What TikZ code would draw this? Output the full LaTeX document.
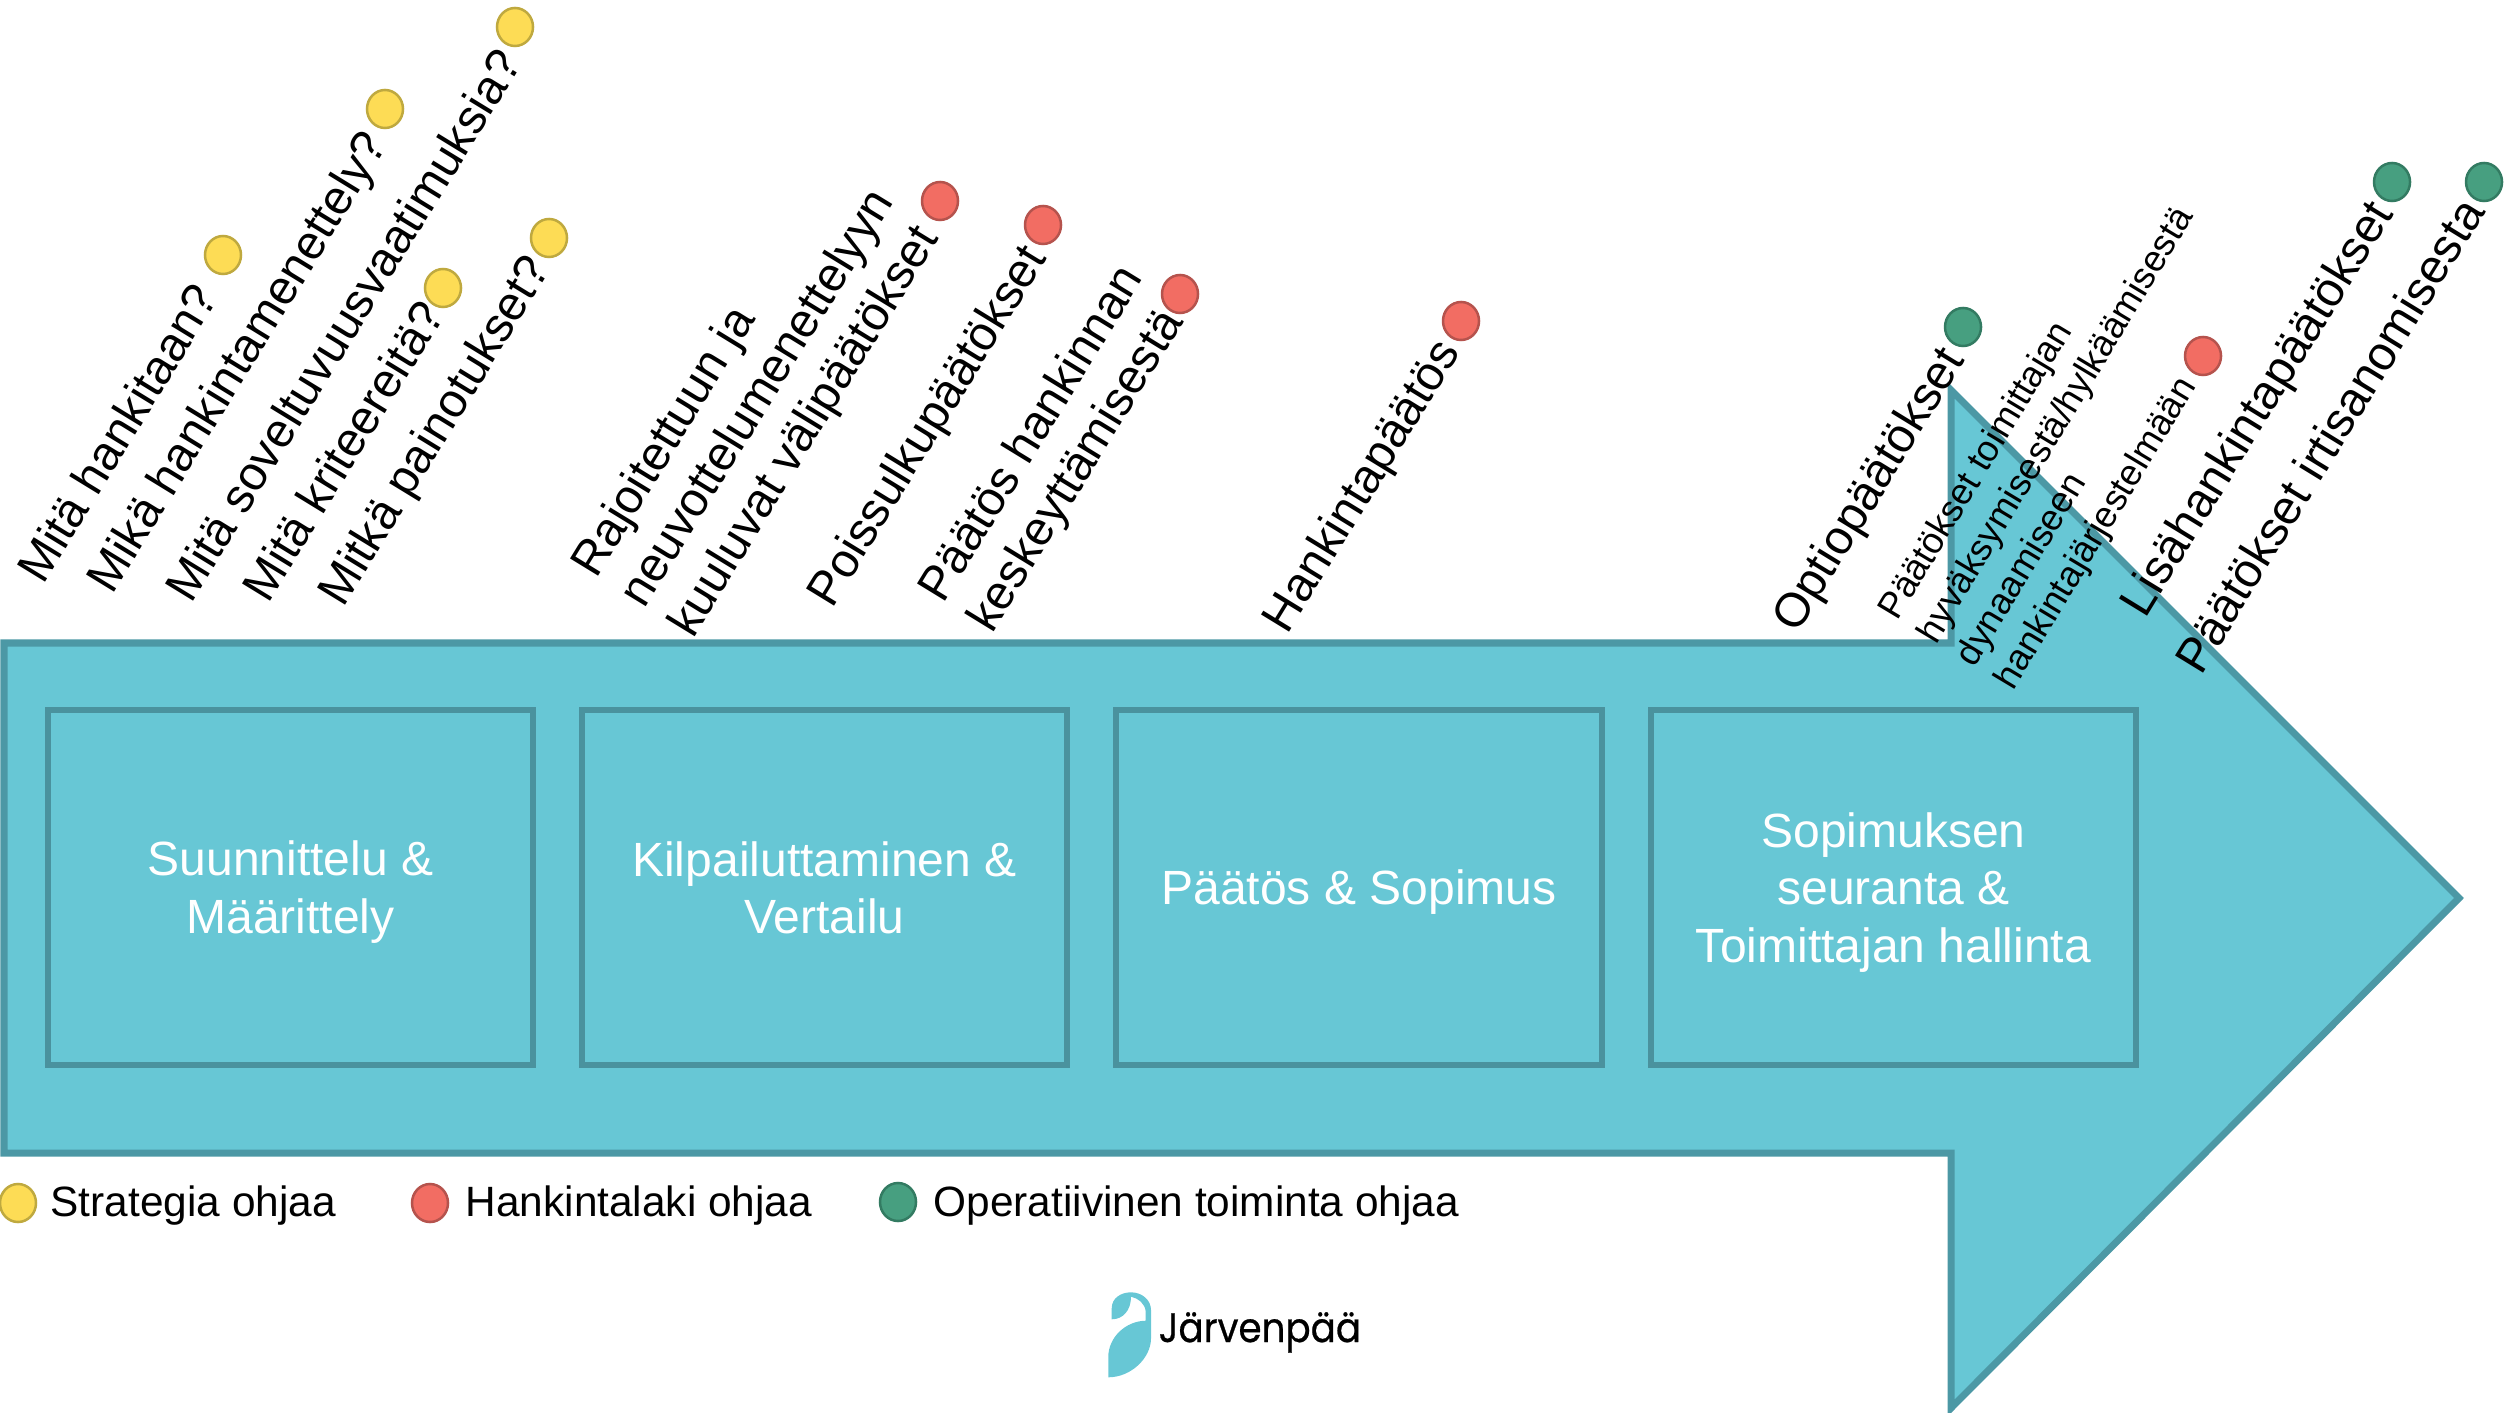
\documentclass[tikz,border=0pt]{standalone}
\usepackage{fontspec}
\setmainfont{Liberation Sans}
\newfontfamily\logofont[FakeBold=0.6]{Poppins}
\usetikzlibrary{shapes.geometric}
\definecolor{teal1}{HTML}{67C7D5}
\definecolor{teal2}{HTML}{4C98A5}
\definecolor{teal3}{HTML}{4A929E}
\definecolor{yel}{HTML}{FDDC55}
\definecolor{yelb}{HTML}{BFA93F}
\definecolor{redd}{HTML}{F26D63}
\definecolor{redb}{HTML}{B5534D}
\definecolor{grn}{HTML}{479F80}
\definecolor{grnb}{HTML}{337B62}
\def\pxu{0.28453pt}
\newcommand{\stagetop}{\rule{0pt}{12.69pt}}
\newcommand{\stagebot}{\rule[-2.73pt]{0pt}{1pt}}
\tikzset{
  x=0.01cm,y=-0.01cm,
  stagebox/.style={draw=teal3,line width=6*\pxu,fill=teal1,text=white,align=center,inner sep=0pt,minimum width=485*\pxu,minimum height=355*\pxu,font=\fontsize{13.66}{16.4}\selectfont},
  dot/.style={ellipse,inner sep=0pt,minimum width=36*\pxu,minimum height=38*\pxu,line width=2.5*\pxu},
  ydot/.style={dot,draw=yelb,fill=yel},
  rdot/.style={dot,draw=redb,fill=redd},
  gdot/.style={dot,draw=grnb,fill=grn},
  tilt/.style={rotate=58.5,anchor=base west,inner sep=0pt,align=left,font=\fontsize{13.6}{16.2}\selectfont},
  tiltsmall/.style={rotate=59,anchor=base west,inner sep=0pt,align=left,font=\fontsize{10.4}{12.8}\selectfont},
  legendtext/.style={anchor=base west,inner sep=0pt,font=\fontsize{12.05}{14}\selectfont},
}
\begin{document}
\begin{tikzpicture}
\useasboundingbox (0,0) rectangle (2504,1413);
% main arrow
\begin{scope}
\clip (0,0) rectangle (2504,1413);
\draw[fill=teal1,draw=teal2,line width=7*\pxu,line join=miter]
  (4,643) -- (1951,643) -- (1951,390) -- (2459,898) -- (1951,1408) -- (1951,1153) -- (4,1153) -- cycle;
\end{scope}
% stages
\node[stagebox] (s1) at (290.5,887.5) {\stagetop Suunnittelu \&\\Määrittely\stagebot};
\node[stagebox] (s2) at (824.5,887.5) {\stagetop Kilpailuttaminen \&\\Vertailu\stagebot};
\node[stagebox] (s3) at (1359,887.5) {\stagetop Päätös \& Sopimus\stagebot};
\node[stagebox] (s4) at (1893.5,887.5) {\stagetop Sopimuksen\\seuranta \&\\Toimittajan hallinta\stagebot};
% strategy
\node[tilt] (t1) at (43,586) {Mitä hankitaan?};
\node[tilt] (t2) at (112,596) {Mikä hankintamenettely?};
\node[tilt] (t3) at (191,605) {Mitä soveltuvuusvaatimuksia?};
\node[tilt] (t4) at (268,605) {Mitä kriteereitä?};
\node[tilt] (t5) at (343,609) {Mitkä painotukset?};
\node[ydot] (y1) at (223,255) {};
\node[ydot] (y2) at (385,109) {};
\node[ydot] (y3) at (515,27) {};
\node[ydot] (y4) at (443,288) {};
\node[ydot] (y5) at (549,238) {};
% law
\node[tilt] (t6) at (693,640) {Rajoitettuun ja\\neuvottelumenettelyyn\\kuuluvat välipäätökset};
\node[tilt] (t7) at (832,610) {Poissulkupäätökset};
\node[tilt] (t8) at (992,635) {Päätös hankinnan\\keskeyttämisestä};
\node[tilt] (t9) at (1287,636) {Hankintapäätös};
\node[rdot] (r1) at (940,201) {};
\node[rdot] (r2) at (1043,225) {};
\node[rdot] (r3) at (1180,294) {};
\node[rdot] (r4) at (1461,321) {};
% operations
\node[tilt] (t10) at (1797,635) {Optiopäätökset};
\node[tiltsmall] (t11) at (2013,692) {Päätökset toimittajan\\hyväksymisestä/hylkäämisestä\\dynaamiseen\\hankintajärjestelmään};
\node[tilt] (t12) at (2145,620) {Lisähankintapäätökset};
\node[tilt] (t13) at (2201,677) {Päätökset irtisanomisesta};
\node[gdot] (g1) at (1963,327) {};
\node[rdot] (r5) at (2203,356) {};
\node[gdot] (g2) at (2392,182) {};
\node[gdot] (g3) at (2484,182) {};
% legend
\node[ydot] (ly) at (18,1203) {};
\node[legendtext] (lyt) at (50,1216) {Strategia ohjaa};
\node[rdot] (lr) at (430,1203) {};
\node[legendtext] (lrt) at (465,1216) {Hankintalaki ohjaa};
\node[gdot] (lg) at (898,1202) {};
\node[legendtext] (lgt) at (933,1216) {Operatiivinen toiminta ohjaa};
% logo
\fill[teal1,shift={(1095,1280)}]
  (16.7,39.3) -- (16.7,28.3) .. controls (16.7,18) and (26,12.3) .. (36,12.3)
  .. controls (47,12.3) and (56,20) .. (56,30) -- (56,58.3)
  .. controls (56,78) and (36,97.3) .. (13.3,97.3) -- (13.3,76.7)
  .. controls (13.3,58) and (30,41) .. (50.7,40.7) -- (50.7,31.7)
  .. controls (50,23.3) and (43.3,18.3) .. (36,16.7)
  .. controls (36,30) and (28.3,39.3) .. (16.7,39.3) -- cycle;
\node[anchor=base west,inner sep=0pt,yscale=1.1,font=\logofont\fontsize{10.6}{12}\selectfont] (logotext) at (1158,1342) {Järvenpää};
\end{tikzpicture}
\end{document}
